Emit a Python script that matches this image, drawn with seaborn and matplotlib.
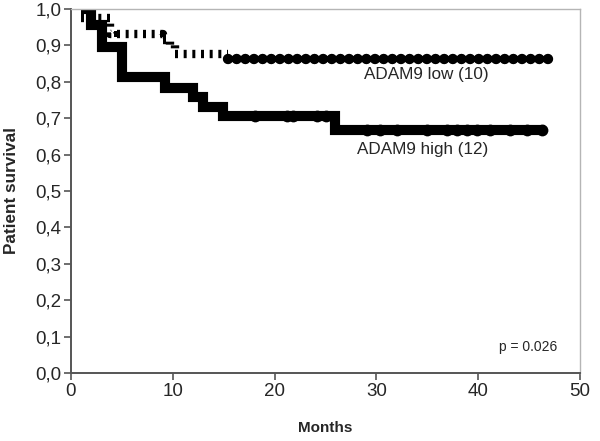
import numpy as np
import pandas as pd
import matplotlib
matplotlib.use("Agg")
import matplotlib.pyplot as plt
import seaborn as sns

# Kaplan-Meier step data (months, survival)
high_t = [1.0, 2.0, 3.0, 5.0, 9.2, 12.0, 13.0, 14.9, 25.9, 46.6]
high_s = [1.0, 0.955, 0.894, 0.813, 0.784, 0.758, 0.730, 0.705, 0.668, 0.668]
high_cens_t = [18.1, 21.2, 21.8, 24.2, 25.0, 29.1, 30.4, 32.0, 35.0, 36.9,
               37.9, 38.9, 39.9, 41.2, 43.1, 44.8, 46.3]
high_cens_s = [0.705] * 5 + [0.668] * 12

low_t = [1.0, 3.8, 9.0, 9.7, 10.2, 15.4]
low_s = [0.975, 0.93, 0.915, 0.90, 0.875, 0.875]
low_tail_t = [15.4, 47.6]
low_tail_s = [0.862, 0.862]
low_cens_t = [4.5, 9.0]
low_cens_s = [0.93, 0.93]

x_ticks = [0, 10, 20, 30, 40, 50]
y_ticks = [0.0, 0.1, 0.2, 0.3, 0.4, 0.5, 0.6, 0.7, 0.8, 0.9, 1.0]

sns.set_style("white")
plt.rcParams['font.family'] = ['Liberation Sans', 'DejaVu Sans']

fig = plt.figure(figsize=(6, 4.41), dpi=100)
ax = fig.add_axes([0.1183, 0.154, 0.8484, 0.826])

# ADAM9 high: thick solid step line with censor circles
sns.lineplot(x=high_t, y=high_s, ax=ax, color='black', lw=7.3,
             drawstyle='steps-post', sort=False, estimator=None,
             solid_capstyle='butt', solid_joinstyle='miter')
sns.scatterplot(x=high_cens_t, y=high_cens_s, ax=ax, color='black', s=72,
                marker='o', edgecolor='black', linewidth=0)

# ADAM9 low: heavy dashed step line, then a chain of dots
sns.lineplot(x=low_t, y=low_s, ax=ax, color='black', lw=6.0,
             drawstyle='steps-post', sort=False, estimator=None,
             linestyle=(0, (0.36, 0.68)), dash_capstyle='butt')
sns.lineplot(x=low_tail_t, y=low_tail_s, ax=ax, color='black', lw=7.5,
             sort=False, estimator=None,
             linestyle=(0, (0.01, 0.82)), dash_capstyle='round')
sns.scatterplot(x=low_cens_t, y=low_cens_s, ax=ax, color='black', s=22,
                marker='s', linewidth=0)

ax.text(34.9, 0.82, 'ADAM9 low (10)', ha='center', va='center', fontsize=12.3)
ax.text(34.5, 0.613, 'ADAM9 high (12)', ha='center', va='center', fontsize=12.3)
ax.text(44.9, 0.072, 'p = 0.026', ha='center', va='center', fontsize=10)

ax.set_xlim(0, 50)
ax.set_ylim(0, 1.0)
ax.set_xticks(x_ticks)
ax.set_yticks(y_ticks)
ax.set_yticklabels([f'{v:.1f}'.replace('.', ',') for v in y_ticks])
ax.tick_params(axis='both', labelsize=13.5, length=5, width=1.2,
               color='#555555', direction='out', bottom=True, left=True, pad=2)
ax.set_xlabel('Months', fontsize=11, fontweight='bold')
ax.set_ylabel('Patient survival', fontsize=12.3, fontweight='bold')
ax.xaxis.set_label_coords(0.5, -0.125)
ax.yaxis.set_label_coords(-0.116, 0.5)
ax.yaxis.label.set_va('center')
ax.xaxis.label.set_va('center')
ax.xaxis.set_label_coords(0.5, -0.151)

for side in ['left', 'bottom']:
    ax.spines[side].set_color('#555555')
    ax.spines[side].set_linewidth(1.4)
for side in ['top', 'right']:
    ax.spines[side].set_color('#b5b5b5')
    ax.spines[side].set_linewidth(1.0)
ax.grid(False)

fig.savefig('out.png', dpi=100)
plt.close(fig)
